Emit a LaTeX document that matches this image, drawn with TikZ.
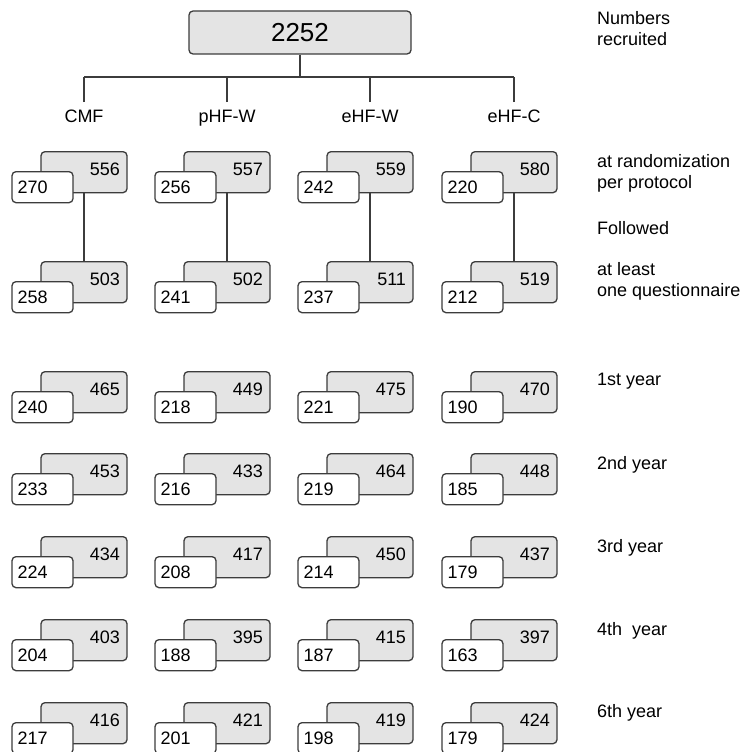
\documentclass[tikz,border=0pt]{standalone}
\usepackage{fontspec}
\setmainfont{Liberation Sans}
\usepackage{tikz}
\usetikzlibrary{positioning}
\definecolor{BoxGray}{HTML}{E4E4E4}
\definecolor{LineGray}{HTML}{3C3C3C}

\begin{document}
\begin{tikzpicture}[
    x=1pt, y=-1pt,
    every node/.style={font=\fontsize{18}{21.5}\selectfont, text=black},
    link/.style={draw=LineGray, line width=1.3pt},
    total/.style={draw=LineGray, line width=1.3pt, rounded corners=4pt, fill=BoxGray,
      minimum width=222pt, minimum height=43pt, font=\fontsize{26}{30}\selectfont},
    allbox/.style={draw=LineGray, line width=1.3pt, rounded corners=4pt, fill=BoxGray,
      minimum width=86pt, minimum height=41pt, text width=72pt, align=right,
      text depth=6pt, inner sep=0pt, anchor=north},
    subbox/.style={draw=LineGray, line width=1.3pt, rounded corners=4pt, fill=white,
      minimum width=61pt, minimum height=31pt, text width=50pt, align=left,
      inner sep=0pt},
    colhead/.style={anchor=north, inner sep=0pt, outer sep=8pt},
    rowlbl/.style={anchor=north west, inner sep=0pt, align=left}
  ]
    \useasboundingbox (0,0) rectangle (746,752);
    % recruited total and split into arms
    \node[total] (top) at (300,32.5) {2252};
    \coordinate (bus) at (0,77);
    \foreach \grp/\x/\lbl in {cmf/84/CMF, phfw/227/pHF-W, ehfw/370/eHF-W, ehfc/514/eHF-C}
      \node[colhead] (\grp) at (\x,102) {\lbl};
    \draw[link] (top.south) -- (top.south |- bus);
    \draw[link] (cmf.north |- bus) -- (ehfc.north |- bus);
    \foreach \grp in {cmf,phfw,ehfw,ehfc}
      \draw[link] (\grp.north) -- (\grp.north |- bus);
    % number pairs per arm, one row per time point
    \foreach \r/\y/\a/\b/\c/\d/\e/\f/\g/\h in {
      1/151/556/270/557/256/559/242/580/220,
      2/261/503/258/502/241/511/237/519/212,
      3/371/465/240/449/218/475/221/470/190,
      4/453/453/233/433/216/464/219/448/185,
      5/536/434/224/417/208/450/214/437/179,
      6/619/403/204/395/188/415/187/397/163,
      7/702/416/217/421/201/419/198/424/179
    }{
      \foreach \grp/\x/\n/\m in {cmf/84/\a/\b, phfw/227/\c/\d, ehfw/370/\e/\f, ehfc/514/\g/\h}{
        \node[allbox] (g-\grp-\r) at (\x,\y) {\n};
        \node[subbox, below right=20pt and -29pt of g-\grp-\r.north west] (w-\grp-\r) {\m};
      }
    }
    \foreach \grp in {cmf,phfw,ehfw,ehfc}
      \draw[link] (g-\grp-1.south) -- (g-\grp-2.north);
    % row captions
    \node[rowlbl] (lbl-rec) at (597,11) {Numbers\\recruited};
    \node[rowlbl] (lbl-rand) at (597,154) {at randomization\\per protocol};
    \node[rowlbl] (lbl-fol) at (597,221) {Followed};
    \node[rowlbl] (lbl-quest) at (597,262) {at least\\one questionnaire};
    \node[rowlbl] (lbl-y1) at (597,373) {1st year};
    \node[rowlbl] (lbl-y2) at (597,456) {2nd year};
    \node[rowlbl] (lbl-y3) at (597,539) {3rd year};
    \node[rowlbl] (lbl-y4) at (597,622) {4th~ year};
    \node[rowlbl] (lbl-y6) at (597,704) {6th year};
  \end{tikzpicture}
\end{document}
